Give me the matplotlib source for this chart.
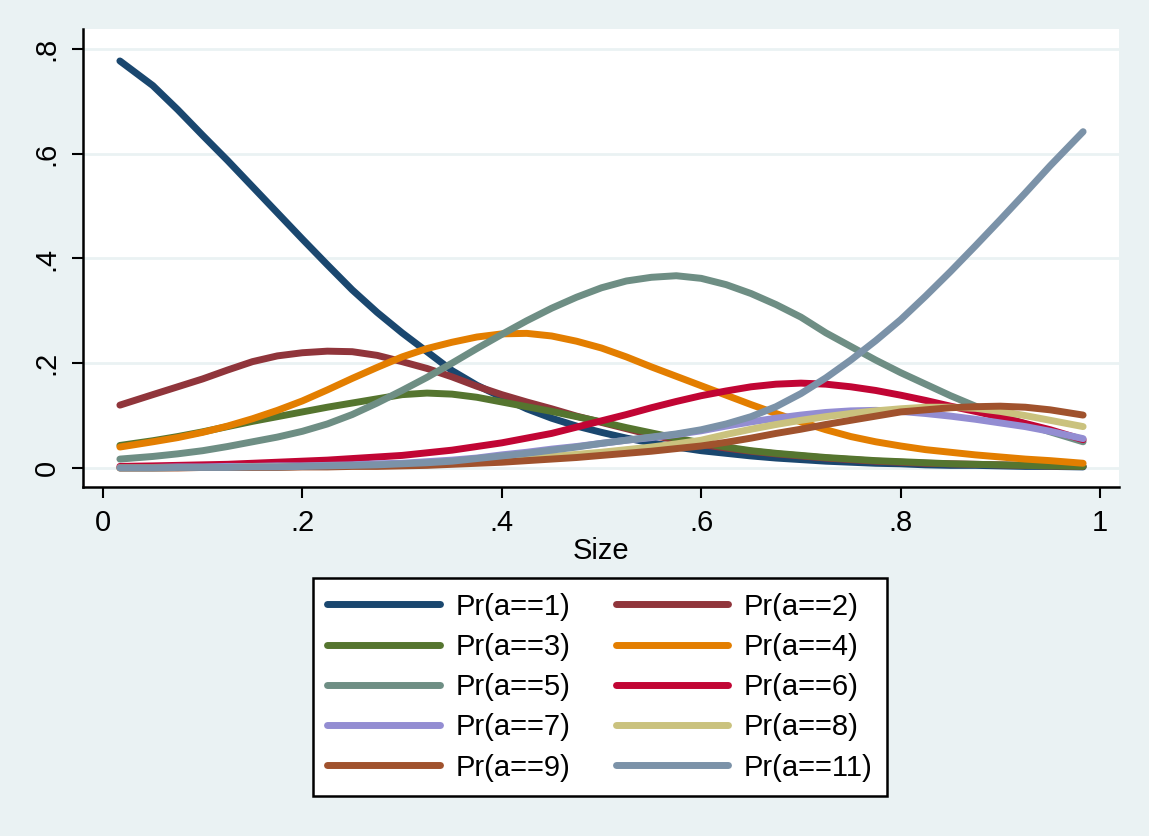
import numpy as np
import matplotlib
matplotlib.use('Agg')
import matplotlib.pyplot as plt

plt.rcParams['font.family'] = ['Liberation Sans', 'DejaVu Sans']

size = [0.017, 0.05, 0.075, 0.1, 0.125, 0.15, 0.175, 0.2, 0.225, 0.25,
        0.275, 0.3, 0.325, 0.35, 0.375, 0.4, 0.425, 0.45, 0.475, 0.5,
        0.525, 0.55, 0.575, 0.6, 0.625, 0.65, 0.675, 0.7, 0.725, 0.75,
        0.775, 0.8, 0.825, 0.85, 0.875, 0.9, 0.925, 0.95, 0.983]

pr1 = [0.777, 0.730, 0.684, 0.635, 0.587, 0.537, 0.487, 0.437, 0.388, 0.340,
       0.297, 0.258, 0.222, 0.186, 0.158, 0.135, 0.113, 0.095, 0.080, 0.068,
       0.057, 0.048, 0.040, 0.033, 0.028, 0.023, 0.019, 0.016, 0.013, 0.011,
       0.009, 0.008, 0.006, 0.005, 0.005, 0.004, 0.003, 0.003, 0.002]
pr2 = [0.120, 0.140, 0.155, 0.170, 0.187, 0.203, 0.214, 0.220, 0.223, 0.222,
       0.215, 0.203, 0.190, 0.174, 0.156, 0.140, 0.126, 0.113, 0.099, 0.087,
       0.075, 0.063, 0.053, 0.045, 0.038, 0.032, 0.027, 0.023, 0.019, 0.016,
       0.013, 0.011, 0.009, 0.008, 0.007, 0.006, 0.005, 0.004, 0.003]
pr3 = [0.043, 0.052, 0.060, 0.069, 0.079, 0.089, 0.098, 0.107, 0.116, 0.124,
       0.132, 0.140, 0.143, 0.141, 0.135, 0.126, 0.117, 0.108, 0.098, 0.088,
       0.077, 0.067, 0.057, 0.048, 0.040, 0.033, 0.028, 0.024, 0.020, 0.017,
       0.014, 0.012, 0.010, 0.008, 0.007, 0.006, 0.005, 0.004, 0.003]
pr4 = [0.040, 0.050, 0.058, 0.068, 0.080, 0.094, 0.110, 0.128, 0.149, 0.171,
       0.192, 0.212, 0.228, 0.240, 0.250, 0.256, 0.257, 0.252, 0.242, 0.229,
       0.212, 0.193, 0.175, 0.157, 0.139, 0.121, 0.104, 0.088, 0.073, 0.060,
       0.050, 0.042, 0.035, 0.030, 0.025, 0.021, 0.017, 0.014, 0.009]
pr5 = [0.017, 0.022, 0.027, 0.033, 0.041, 0.050, 0.059, 0.070, 0.084, 0.102,
       0.124, 0.148, 0.173, 0.200, 0.228, 0.255, 0.281, 0.305, 0.326, 0.344,
       0.357, 0.364, 0.367, 0.362, 0.350, 0.333, 0.312, 0.288, 0.258, 0.232,
       0.206, 0.182, 0.160, 0.138, 0.118, 0.100, 0.084, 0.069, 0.050]
pr6 = [0.003, 0.004, 0.005, 0.006, 0.007, 0.009, 0.011, 0.013, 0.015, 0.018,
       0.021, 0.024, 0.029, 0.034, 0.041, 0.048, 0.057, 0.066, 0.078, 0.090,
       0.102, 0.115, 0.127, 0.138, 0.147, 0.155, 0.160, 0.162, 0.160, 0.155,
       0.148, 0.139, 0.129, 0.118, 0.108, 0.097, 0.085, 0.073, 0.054]
pr7 = [0.001, 0.001, 0.002, 0.002, 0.003, 0.003, 0.004, 0.004, 0.005, 0.006,
       0.008, 0.009, 0.012, 0.015, 0.019, 0.025, 0.030, 0.036, 0.041, 0.047,
       0.053, 0.058, 0.064, 0.071, 0.080, 0.088, 0.095, 0.101, 0.106, 0.109,
       0.110, 0.108, 0.104, 0.099, 0.093, 0.086, 0.079, 0.070, 0.056]
pr8 = [0.000, 0.000, 0.001, 0.001, 0.001, 0.002, 0.002, 0.003, 0.003, 0.004,
       0.005, 0.006, 0.007, 0.009, 0.012, 0.015, 0.018, 0.022, 0.026, 0.030,
       0.035, 0.040, 0.046, 0.053, 0.064, 0.074, 0.083, 0.091, 0.098, 0.104,
       0.109, 0.113, 0.116, 0.116, 0.114, 0.108, 0.100, 0.091, 0.079]
pr9 = [0.000, 0.000, 0.000, 0.001, 0.001, 0.001, 0.001, 0.002, 0.002, 0.003,
       0.003, 0.004, 0.005, 0.007, 0.009, 0.011, 0.014, 0.017, 0.020, 0.024,
       0.028, 0.032, 0.037, 0.042, 0.049, 0.057, 0.066, 0.074, 0.083, 0.091,
       0.099, 0.107, 0.111, 0.115, 0.117, 0.118, 0.116, 0.111, 0.101]
pr11 = [0.000, 0.000, 0.001, 0.001, 0.001, 0.002, 0.002, 0.003, 0.004, 0.005,
        0.006, 0.008, 0.010, 0.013, 0.018, 0.023, 0.028, 0.034, 0.040, 0.047,
        0.053, 0.059, 0.065, 0.073, 0.084, 0.098, 0.117, 0.142, 0.172, 0.206,
        0.243, 0.283, 0.328, 0.375, 0.424, 0.474, 0.525, 0.577, 0.642]

series = [pr1, pr2, pr3, pr4, pr5, pr6, pr7, pr8, pr9, pr11]
labels = ['Pr(a==1)', 'Pr(a==2)', 'Pr(a==3)', 'Pr(a==4)', 'Pr(a==5)',
          'Pr(a==6)', 'Pr(a==7)', 'Pr(a==8)', 'Pr(a==9)', 'Pr(a==11)']
colors = ['#1a476f', '#90353b', '#55752f', '#e37e00', '#6e8e84',
          '#c10534', '#938dd2', '#cac27e', '#a0522d', '#7b92a8']

xticks = [0, 0.2, 0.4, 0.6, 0.8, 1]
xticklabels = ['0', '.2', '.4', '.6', '.8', '1']
yticks = [0, 0.2, 0.4, 0.6, 0.8]
yticklabels = ['0', '.2', '.4', '.6', '.8']

bg = '#eaf2f3'
fs = 21
fig = plt.figure(figsize=(11.49, 8.36), dpi=100, facecolor=bg)
ax = fig.add_axes([83/1149, 1 - 487/836, (1119 - 83)/1149, (487 - 29)/836])
ax.set_facecolor('white')

lines = []
for y, lab, c in zip(series, labels, colors):
    l, = ax.plot(size, y, color=c, lw=5, solid_capstyle='round',
                 solid_joinstyle='round', label=lab)
    lines.append(l)

ax.set_xlim(-0.020, 1.019)
ax.set_ylim(-0.0363, 0.838)
ax.set_xticks(xticks)
ax.set_xticklabels(xticklabels)
ax.set_yticks(yticks)
ax.set_yticklabels(yticklabels, rotation=90, va='center')
ax.tick_params(axis='both', direction='out', length=8, width=1.5,
               labelsize=fs, pad=8, color='black')
ax.yaxis.grid(True, color=bg, lw=2)
ax.set_axisbelow(True)
ax.set_xlabel('Size', fontsize=fs, labelpad=0)

for s in ['top', 'right']:
    ax.spines[s].set_visible(False)
for s in ['left', 'bottom']:
    ax.spines[s].set_linewidth(1.8)
    ax.spines[s].set_color('black')

# stata fills the legend row by row, matplotlib column by column
order = [0, 2, 4, 6, 8, 1, 3, 5, 7, 9]
leg = ax.legend([lines[i] for i in order], [labels[i] for i in order],
                loc='upper center', bbox_to_anchor=(600/1149, 1 - 578/836),
                bbox_transform=fig.transFigure, ncol=2, fontsize=fs,
                frameon=True, fancybox=False, framealpha=1, edgecolor='black',
                handlelength=3.85, handletextpad=0.55, columnspacing=1.55,
                labelspacing=0.42, borderpad=0.5, borderaxespad=0)
leg.get_frame().set_linewidth(1.8)

plt.savefig('out.png', dpi=100, facecolor=bg)
